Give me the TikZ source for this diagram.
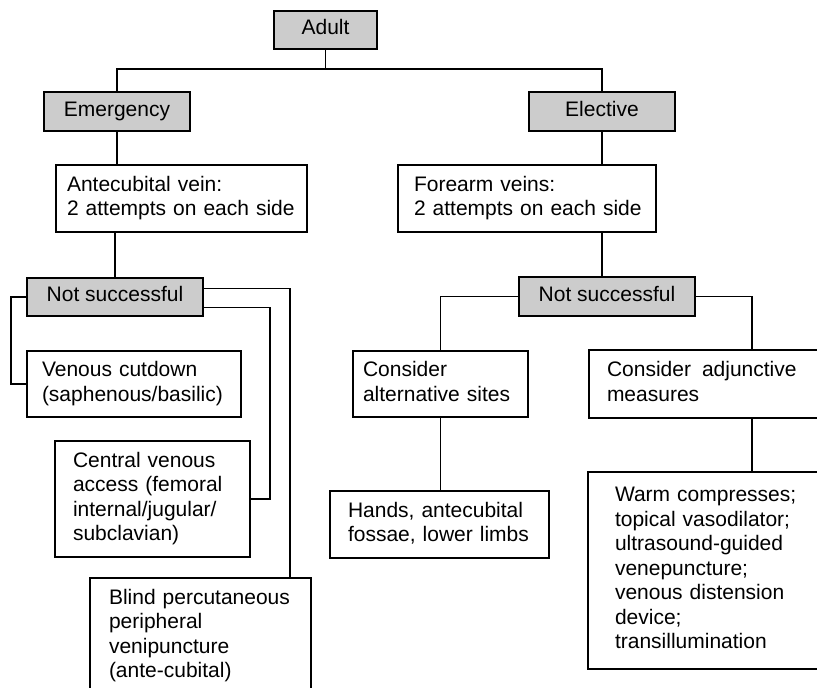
\documentclass[tikz,border=0pt]{standalone}
\usepackage{fontspec}
\setmainfont{Liberation Sans}
\definecolor{hdgray}{HTML}{CCCCCC}
\begin{document}
\begin{tikzpicture}[x=1pt,y=-1pt,
  base/.style={draw=black, line width=1.4pt, inner ysep=0pt,
    font=\fontsize{21}{24.5}\selectfont,
    execute at begin node=\strut, execute at end node=\strut},
  greybox/.style={base, fill=hdgray, align=center, inner xsep=0pt},
  textbox/.style={base, fill=white, align=left},
  link/.style={draw=black, line width=1.2pt}]
\useasboundingbox (0,0) rectangle (817,688);
\fill[white] (0,0) rectangle (817,688);
\clip (0,0) rectangle (817,688);

% grey headers
\node[greybox, minimum width=103pt, minimum height=38pt] (adult) at (325.5,30) {Adult};
\node[greybox, minimum width=146pt, minimum height=39pt] (emerg) at (117,111.5) {Emergency};
\node[greybox, minimum width=146pt, minimum height=39pt] (elect) at (602,111.5) {Elective};
\node[greybox, minimum width=176pt, minimum height=38pt] (nsl) at (115,297) {Not successful};
\node[greybox, minimum width=176pt, minimum height=39pt] (nsr) at (607,296.5) {Not successful};

% text boxes
\node[textbox, inner xsep=11pt, text width=229pt, minimum height=67pt] (ante) at (181.5,198.5)
  {Antecubital vein:\\\mbox{2 attempts on each side}};
\node[textbox, inner xsep=16pt, text width=226pt, minimum height=67pt] (fore) at (527,198.5)
  {Forearm veins:\\\mbox{2 attempts on each side}};
\node[textbox, inner xsep=15pt, text width=184pt, minimum height=66pt] (venous) at (134,384)
  {Venous cutdown\\(saphenous/basilic)};
\node[textbox, inner xsep=18pt, text width=159pt, minimum height=116pt] (central) at (152.5,499)
  {Central venous\\access (femoral\\internal/jugular/\\subclavian)};
\node[textbox, inner xsep=19pt, text width=183pt, minimum height=116pt] (blind) at (200.5,636)
  {Blind percutaneous\\peripheral\\venipuncture\\(ante-cubital)};
\node[textbox, inner xsep=10pt, text width=155pt, minimum height=66pt] (alt) at (440.5,384)
  {Consider\\alternative sites};
\node[textbox, inner xsep=18pt, text width=183pt, minimum height=67pt] (hands) at (439.5,524.5)
  {Hands, antecubital\\fossae, lower limbs};
\node[textbox, inner xsep=18pt, text width=200pt, minimum height=68pt] (adj) at (707,384)
  {Consider\hspace{11pt}adjunctive\\measures};
\node[textbox, inner xsep=27pt, text width=183pt, minimum height=197pt] (warm) at (706.5,570.5)
  {Warm compresses;\\topical vasodilator;\\ultrasound-guided\\venepuncture;\\venous distension\\device;\\transillumination};

% helper coordinates
\coordinate (top) at (325.5,69);
\coordinate (l1) at (11,0);
\coordinate (r1) at (290,0);
\coordinate (r2) at (270,0);
\coordinate (r3) at (752,0);

% connectors
\draw[link] (adult.south) -- (top);
\draw[link] (emerg.north) |- (top) -| (elect.north);
\draw[link] (emerg.south) -- (emerg.south |- ante.north);
\draw[link] (elect.south) -- (elect.south |- fore.north);
\draw[link] (nsl.north |- ante.south) -- (nsl.north);
\draw[link] (elect.south |- fore.south) -- (elect.south |- nsr.north);
\draw[link] (nsl.west) -- (nsl.west -| l1) |- (venous.west);
\draw[link] ([yshift=9pt]nsl.south east) -| (r2 |- central.east) -- (central.east);
\draw[link] ([yshift=-11pt]nsl.north east) -| (r1 |- blind.north);
\draw[link] (nsr.west) -| (alt.north);
\draw[link] (nsr.east) -| (r3 |- adj.north);
\draw[link] (r3 |- adj.south) -- (r3 |- warm.north);
\draw[link] (alt.south) -- (alt.south |- hands.north);
\end{tikzpicture}
\end{document}
